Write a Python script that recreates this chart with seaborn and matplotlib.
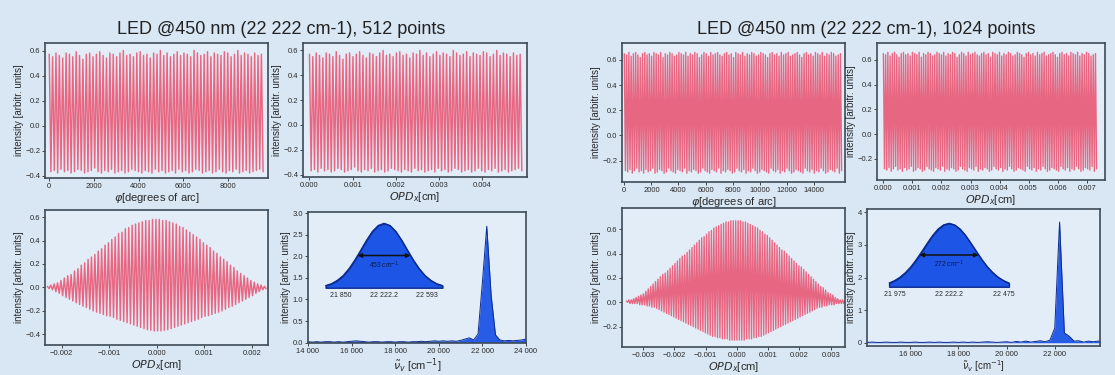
import numpy as np
import matplotlib
matplotlib.use("Agg")
import matplotlib.pyplot as plt
import seaborn as sns
from matplotlib.ticker import FuncFormatter

# ---------------- data ----------------
raw512_hi = [0.57,0.55,0.58,0.56,0.54,0.58,0.57,0.55,0.59,0.56,
             0.53,0.57,0.58,0.55,0.57,0.59,0.56,0.54,0.58,0.57,
             0.55,0.58,0.60,0.56,0.57,0.55,0.58,0.59,0.56,0.57,
             0.54,0.58,0.57,0.60,0.56,0.58,0.55,0.57,0.59,0.56,
             0.58,0.57,0.55,0.60,0.58,0.56,0.57,0.59,0.55,0.58,
             0.57,0.56,0.59,0.58,0.55,0.57,0.60,0.56,0.58,0.57,
             0.55,0.58,0.56,0.57]
raw512_lo = [-0.37,-0.36,-0.38,-0.35,-0.37,-0.36,-0.38,-0.37,-0.35,-0.36,
             -0.38,-0.37,-0.36,-0.34,-0.37,-0.38,-0.36,-0.37,-0.35,-0.38,
             -0.37,-0.36,-0.38,-0.37,-0.35,-0.36,-0.37,-0.38,-0.36,-0.37,
             -0.38,-0.35,-0.37,-0.36,-0.38,-0.37,-0.36,-0.38,-0.35,-0.37,
             -0.36,-0.38,-0.37,-0.35,-0.36,-0.38,-0.37,-0.36,-0.38,-0.37,
             -0.35,-0.37,-0.38,-0.36,-0.37,-0.35,-0.38,-0.37,-0.36,-0.38,
             -0.37,-0.36,-0.35,-0.37]

raw1024_hi = [0.65,0.64,0.66,0.63,0.65,0.66,0.64,0.62,0.65,0.66,
              0.64,0.65,0.63,0.66,0.65,0.64,0.66,0.62,0.65,0.64,
              0.66,0.65,0.63,0.64,0.66,0.65,0.64,0.66,0.63,0.65,
              0.64,0.66,0.65,0.62,0.64,0.66,0.65,0.63,0.66,0.64,
              0.65,0.66,0.64,0.63,0.65,0.66,0.64,0.65,0.62,0.66,
              0.65,0.64,0.66,0.63,0.65,0.64,0.66,0.65,0.63,0.64,
              0.66,0.65,0.64,0.62,0.65,0.66,0.64,0.65,0.63,0.66,
              0.64,0.65,0.66,0.63,0.64,0.65,0.66,0.64,0.62,0.65,
              0.66,0.64,0.65,0.63,0.66,0.65,0.64,0.66,0.63,0.65,
              0.64,0.66,0.65,0.63,0.64,0.65]
raw1024_lo = [-0.28,-0.29,-0.27,-0.30,-0.28,-0.26,-0.29,-0.28,-0.30,-0.27,
              -0.29,-0.28,-0.26,-0.30,-0.29,-0.27,-0.28,-0.30,-0.29,-0.26,
              -0.28,-0.29,-0.30,-0.27,-0.28,-0.29,-0.26,-0.30,-0.28,-0.29,
              -0.27,-0.28,-0.30,-0.29,-0.26,-0.28,-0.29,-0.30,-0.27,-0.28,
              -0.29,-0.26,-0.30,-0.28,-0.29,-0.27,-0.28,-0.30,-0.29,-0.26,
              -0.28,-0.29,-0.27,-0.30,-0.28,-0.29,-0.26,-0.28,-0.30,-0.29,
              -0.27,-0.28,-0.29,-0.30,-0.26,-0.28,-0.29,-0.27,-0.30,-0.28,
              -0.29,-0.26,-0.28,-0.30,-0.29,-0.27,-0.28,-0.29,-0.30,-0.26,
              -0.28,-0.29,-0.27,-0.30,-0.28,-0.29,-0.26,-0.28,-0.30,-0.29,
              -0.27,-0.28,-0.29,-0.26,-0.30,-0.28]

apod512_hi = [0.01,0.02,0.03,0.04,0.06,0.08,0.10,0.11,0.14,0.16,
              0.19,0.21,0.24,0.26,0.28,0.31,0.33,0.36,0.38,0.41,
              0.43,0.46,0.47,0.50,0.51,0.53,0.54,0.55,0.56,0.57,
              0.57,0.58,0.58,
              0.58,0.57,0.57,0.56,0.55,0.54,0.52,0.51,0.49,0.47,
              0.45,0.43,0.41,0.38,0.36,0.34,0.31,0.29,0.26,0.24,
              0.22,0.19,0.17,0.14,0.12,0.10,0.08,0.06,0.045,0.03,
              0.02,0.01]
apod512_lo = [-0.01,-0.02,-0.035,-0.05,-0.07,-0.085,-0.10,-0.115,-0.13,-0.145,
              -0.16,-0.17,-0.185,-0.20,-0.21,-0.22,-0.23,-0.24,-0.245,-0.255,
              -0.27,-0.28,-0.29,-0.30,-0.31,-0.32,-0.33,-0.34,-0.35,-0.36,
              -0.365,-0.37,-0.37,
              -0.37,-0.365,-0.36,-0.35,-0.34,-0.33,-0.32,-0.31,-0.30,-0.29,
              -0.28,-0.27,-0.255,-0.245,-0.24,-0.23,-0.22,-0.21,-0.20,-0.185,
              -0.17,-0.16,-0.145,-0.13,-0.115,-0.10,-0.085,-0.07,-0.05,-0.035,
              -0.02,-0.01]

apod1024_hi = [0.01,0.02,0.02,0.03,0.04,0.05,0.06,0.07,0.09,0.11,
               0.13,0.15,0.17,0.19,0.21,0.23,0.24,0.26,0.28,0.30,
               0.32,0.34,0.36,0.38,0.39,0.41,0.43,0.45,0.47,0.49,
               0.51,0.53,0.54,0.56,0.58,0.59,0.61,0.62,0.63,0.64,
               0.65,0.66,0.66,0.67,0.67,0.67,
               0.67,0.67,0.66,0.66,0.65,0.64,0.63,0.62,0.61,0.59,
               0.58,0.56,0.55,0.53,0.51,0.49,0.47,0.45,0.43,0.42,
               0.40,0.38,0.36,0.34,0.32,0.30,0.29,0.27,0.25,0.23,
               0.21,0.19,0.17,0.15,0.13,0.12,0.10,0.08,0.07,0.06,
               0.04,0.03,0.02,0.02,0.01]
apod1024_lo = [0.00,-0.01,-0.01,-0.01,-0.01,-0.02,-0.02,-0.02,-0.03,-0.03,
               -0.04,-0.04,-0.05,-0.06,-0.07,-0.08,-0.09,-0.10,-0.11,-0.12,
               -0.13,-0.14,-0.15,-0.16,-0.17,-0.18,-0.19,-0.20,-0.21,-0.22,
               -0.23,-0.24,-0.25,-0.26,-0.27,-0.28,-0.28,-0.29,-0.29,-0.30,
               -0.30,-0.30,-0.31,-0.31,-0.31,-0.31,
               -0.31,-0.31,-0.31,-0.30,-0.30,-0.30,-0.29,-0.29,-0.28,-0.28,
               -0.27,-0.26,-0.25,-0.24,-0.23,-0.22,-0.21,-0.20,-0.19,-0.18,
               -0.17,-0.16,-0.15,-0.14,-0.13,-0.12,-0.11,-0.10,-0.09,-0.08,
               -0.07,-0.06,-0.05,-0.04,-0.04,-0.03,-0.03,-0.02,-0.02,-0.02,
               -0.01,-0.01,-0.01,-0.01,0.00]

# sampling ranges (start, end) of the abscissae
phi512_range = (0, 9580)
opd512_range = (0, 0.00491)
apod512_range = (-0.0023, 0.0023)
phi1024_range = (0, 16040)
opd1024_range = (0, 0.00734)
apod1024_range = (-0.00354, 0.0035)

spec_range = (14000, 24000)
spec512 = [0.02,0.01,0.02,0.01,0.02,0.02,0.01,0.02,0.01,0.02,
           0.03,0.04,0.03,0.02,0.01,0.02,0.02,0.01,0.02,0.02,
           0.01,0.02,0.02,0.01,0.02,0.02,0.03,0.02,0.03,0.04,
           0.03,0.04,0.03,0.04,0.03,0.05,0.08,0.11,0.06,0.20,
           1.40,2.70,1.10,0.18,0.06,0.04,0.05,0.04,0.05,0.06,0.08]
spec1024 = [0.01,0.01,0.02,0.01,0.01,0.02,0.01,0.01,0.02,0.01,
            0.01,0.02,0.01,0.01,0.02,0.01,0.02,0.01,0.01,0.02,
            0.01,0.02,0.01,0.02,0.01,0.02,0.03,0.02,0.01,0.02,
            0.03,0.01,0.04,0.02,0.05,0.02,0.04,0.06,0.03,0.08,
            0.45,3.70,0.30,0.20,0.05,0.06,0.02,0.05,0.03,0.05,0.04]

inset512_range = (21722, 22722)
inset512 = [0.09,0.17,0.31,0.51,0.80,1.16,1.57,1.99,2.36,2.61,2.70,
            2.61,2.36,1.99,1.57,1.16,0.80,0.51,0.31,0.17,0.09]
inset1024_range = (21947, 22497)
inset1024 = [0.22,0.36,0.56,0.83,1.17,1.59,2.06,2.54,3.00,3.37,3.61,3.70,
             3.61,3.37,3.00,2.54,2.06,1.59,1.17,0.83,0.56,0.36,0.22]

center_nu = 22222.2
fwhm512 = 453
fwhm1024 = 272
inset512_ticks = [21850, 22222.2, 22593]
inset512_labels = ["21 850", "22 222.2", "22 593"]
inset1024_ticks = [21975, 22222.2, 22475]
inset1024_labels = ["21 975", "22 222.2", "22 475"]

titles = ["LED @450 nm (22 222 cm-1), 512 points",
          "LED @450 nm (22 222 cm-1), 1024 points"]

# ---------------- style ----------------
sns.set_theme(style="white")
plt.rcParams['font.family'] = ['Liberation Sans', 'DejaVu Sans']
plt.rcParams['mathtext.fontset'] = 'dejavusans'

BG = '#d9e7f5'
AXBG = '#e2edf8'
SPINE = '#3e4b58'
RED = '#e9506f'
BLUE = '#1d55e6'
DBLUE = '#0b2a8f'
TXT = '#2a2a2a'

W, H = 1115, 375
fig = plt.figure(figsize=(W / 100, H / 100), dpi=100)
fig.patch.set_facecolor(BG)


def add_ax(l, t, r, b):
    return fig.add_axes([l / W, 1 - b / H, (r - l) / W, (b - t) / H])


def style(ax, xlim, ylim, xticks, yticks, xfmt, yfmt, xlabel, ylabel,
          xlfs=8, xlpad=1):
    ax.set_facecolor(AXBG)
    for s in ax.spines.values():
        s.set_color(SPINE)
        s.set_linewidth(1.2)
    ax.set_xlim(*xlim)
    ax.set_ylim(*ylim)
    ax.set_xticks(xticks)
    ax.set_yticks(yticks)
    ax.xaxis.set_major_formatter(FuncFormatter(xfmt))
    ax.yaxis.set_major_formatter(FuncFormatter(yfmt))
    ax.tick_params(axis='both', labelsize=5.5, length=2, width=0.6,
                   pad=1.5, colors=TXT, direction='out', bottom=True, left=True)
    ax.set_xlabel(xlabel, fontsize=xlfs, labelpad=xlpad, color=TXT)
    ax.set_ylabel(ylabel, fontsize=7, labelpad=1, color=TXT)
    ax.grid(False)


def interleave(hi, lo):
    return np.column_stack([hi, lo]).ravel()


def f1(v, p):
    return f"{v:.1f}".replace("-", "\u2212")


def f3(v, p):
    return f"{v:.3f}".replace("-", "\u2212")


def f0(v, p):
    return f"{int(round(v))}"


def fsp(v, p):
    return f"{int(round(v)):,}".replace(",", " ")


def fint(v, p):
    return f"{int(round(v))}"


YL = "intensity [arbitr. units]"
PHI = r"$\varphi$[degrees of arc]"
OPD = r"$OPD_x$[cm]"
NU = r"$\tilde{\nu}_v$ [cm$^{-1}$]"


def draw_line(ax, x, y, lw):
    sns.lineplot(x=x, y=y, ax=ax, color=RED, lw=lw, sort=False,
                 estimator=None, alpha=0.85)


def spectrum(ax, y):
    x = np.linspace(*spec_range, len(y))
    ax.fill_between(x, 0, y, color=BLUE, alpha=0.95, lw=0)
    sns.lineplot(x=x, y=y, ax=ax, color=DBLUE, lw=0.7, sort=False, estimator=None)


def inset(rect, rng, y, ticks, labels, fwhm):
    ai = add_ax(*rect)
    x = np.linspace(*rng, len(y))
    ai.fill_between(x, 0, y, facecolor=BLUE, edgecolor=DBLUE, lw=1.0)
    sns.lineplot(x=x, y=y, ax=ai, color=DBLUE, lw=0.8, sort=False, estimator=None)
    ai.set_xlim(rng[0] - 5, rng[1] + 5)
    ymax = max(y)
    ai.set_ylim(-ymax * 0.02, ymax * 1.02)
    ai.set_facecolor('none')
    for s in ai.spines.values():
        s.set_visible(False)
    ai.set_yticks([])
    ai.set_xticks(ticks)
    ai.set_xticklabels(labels)
    ai.tick_params(axis='x', length=0, labelsize=5, pad=2, colors=TXT)
    ai.set_xlabel("")
    ai.set_ylabel("")
    ai.annotate('', xy=(center_nu - fwhm / 2, ymax / 2),
                xytext=(center_nu + fwhm / 2, ymax / 2),
                arrowprops=dict(arrowstyle='<|-|>', color='#111111', lw=1.1,
                                mutation_scale=6, shrinkA=0, shrinkB=0))
    ai.text(center_nu, ymax / 2 * 0.88, f"{fwhm} cm$^{{-1}}$", ha='center',
            va='top', fontsize=4.8, color='#0a1a50')
    return ai


# ---- panel 1: raw 512 vs phi
r512 = interleave(raw512_hi, raw512_lo)
ax1 = add_ax(45, 43, 268, 178)
draw_line(ax1, np.linspace(*phi512_range, len(r512)), r512, 1.05)
style(ax1, (-190, 9800), (-0.42, 0.66), [0, 2000, 4000, 6000, 8000],
      [-0.4, -0.2, 0.0, 0.2, 0.4, 0.6], f0, f1, PHI, YL)

# ---- panel 2: raw 512 vs OPD
ax2 = add_ax(303, 43, 527, 177)
draw_line(ax2, np.linspace(*opd512_range, len(r512)), r512, 1.05)
style(ax2, (-0.00015, 0.00503), (-0.42, 0.66), [0, 0.001, 0.002, 0.003, 0.004],
      [-0.4, -0.2, 0.0, 0.2, 0.4, 0.6], f3, f1, OPD, YL)

# ---- panel 3: apodized 512
a512 = interleave(apod512_hi, apod512_lo)
ax3 = add_ax(45, 210, 268, 345)
draw_line(ax3, np.linspace(*apod512_range, len(a512)), a512, 1.05)
style(ax3, (-0.00235, 0.00234), (-0.49, 0.66), [-0.002, -0.001, 0, 0.001, 0.002],
      [-0.4, -0.2, 0.0, 0.2, 0.4, 0.6], f3, f1, OPD, YL)

# ---- panel 4: spectrum 512
ax4 = add_ax(308, 212, 526, 343)
spectrum(ax4, spec512)
style(ax4, spec_range, (-0.01, 3.03), [14000, 16000, 18000, 20000, 22000, 24000],
      [0, 0.5, 1.0, 1.5, 2.0, 2.5, 3.0], fsp, f1, NU, YL)
inset((325, 222, 443, 289), inset512_range, inset512, inset512_ticks,
      inset512_labels, fwhm512)

# ---- panel 5: raw 1024 vs phi
r1024 = interleave(raw1024_hi, raw1024_lo)
ax5 = add_ax(622, 43, 845, 182)
draw_line(ax5, np.linspace(*phi1024_range, len(r1024)), r1024, 1.0)
style(ax5, (-170, 16290), (-0.37, 0.735),
      [0, 2000, 4000, 6000, 8000, 10000, 12000, 14000],
      [-0.2, 0.0, 0.2, 0.4, 0.6], f0, f1, PHI, YL)

# ---- panel 6: raw 1024 vs OPD
ax6 = add_ax(877, 43, 1105, 180)
draw_line(ax6, np.linspace(*opd1024_range, len(r1024)), r1024, 1.0)
style(ax6, (-0.00022, 0.00763), (-0.37, 0.735),
      [0, 0.001, 0.002, 0.003, 0.004, 0.005, 0.006, 0.007],
      [-0.2, 0.0, 0.2, 0.4, 0.6], f3, f1, OPD, YL)

# ---- panel 7: apodized 1024
a1024 = interleave(apod1024_hi, apod1024_lo)
ax7 = add_ax(622, 208, 845, 347)
draw_line(ax7, np.linspace(*apod1024_range, len(a1024)), a1024, 1.0)
style(ax7, (-0.00368, 0.00346), (-0.367, 0.775),
      [-0.003, -0.002, -0.001, 0, 0.001, 0.002, 0.003],
      [-0.2, 0.0, 0.2, 0.4, 0.6], f3, f1, OPD, YL)

# ---- panel 8: spectrum 1024
ax8 = add_ax(867, 209, 1100, 346)
spectrum(ax8, spec1024)
style(ax8, (14200, 23880), (-0.1, 4.1), [16000, 18000, 20000, 22000],
      [0, 1, 2, 3, 4], fsp, fint, NU, YL, xlfs=7, xlpad=0)
inset((888, 222, 1010, 288), inset1024_range, inset1024, inset1024_ticks,
      inset1024_labels, fwhm1024)

# ---- titles
fig.text(281 / W, 1 - 29 / H, titles[0], ha='center', va='center',
         fontsize=13, color='#222222')
fig.text(866 / W, 1 - 29 / H, titles[1], ha='center', va='center',
         fontsize=13, color='#222222')

fig.savefig("out.png", dpi=100, facecolor=fig.get_facecolor())
